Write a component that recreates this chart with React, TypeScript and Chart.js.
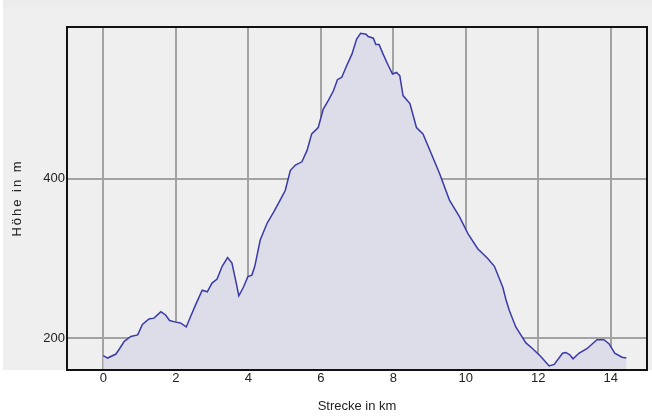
import React, { useEffect, useRef } from "react";
import { Chart, registerables } from "chart.js";

Chart.register(...registerables);

const distanceKm = [
  0.0, 0.12, 0.35, 0.44, 0.58, 0.76, 0.95, 1.08, 1.26, 1.4, 1.59, 1.72, 1.83, 2.0, 2.13, 2.29,
  2.41, 2.55, 2.73, 2.87, 3.0, 3.14, 3.28, 3.43, 3.55, 3.65, 3.74, 3.87, 3.99, 4.1, 4.18, 4.33,
  4.52, 4.7, 4.88, 5.02, 5.16, 5.3, 5.48, 5.62, 5.75, 5.93, 6.07, 6.21, 6.35, 6.46, 6.58, 6.72,
  6.86, 6.99, 7.1, 7.25, 7.31, 7.45, 7.52, 7.61, 7.72, 7.86, 7.98, 8.09, 8.18, 8.27, 8.46, 8.64,
  8.82, 9.05, 9.28, 9.55, 9.83, 10.06, 10.33, 10.6, 10.79, 11.02, 11.11, 11.2, 11.38, 11.66,
  11.84, 12.07, 12.3, 12.44, 12.67, 12.76, 12.87, 12.96, 13.12, 13.35, 13.62, 13.81, 13.95,
  14.11, 14.31, 14.43,
];

const elevationM = [
  178, 175, 180, 186, 196, 202, 204, 217, 224, 225, 233, 229, 222, 220, 219, 214,
  227, 242, 260, 258, 269, 274, 290, 301, 294, 273, 253, 264, 277, 279, 290, 323,
  344, 358, 373, 385, 410, 417, 421, 435, 456, 464, 487, 498, 510, 524, 527, 542,
  556, 575, 582, 581, 578, 576, 568, 568, 556, 542, 531, 533, 529, 504, 494, 464,
  456, 431, 406, 373, 352, 331, 312, 300, 290, 264, 248, 235, 214, 194,
  187, 177, 165, 167, 181, 182, 179, 174, 181, 187, 198, 198, 193,
  181, 176, 175,
];

const xTicks = [0, 2, 4, 6, 8, 10, 12, 14];
const yTicks = [200, 400];

const xTitle = "Strecke in km";
const yTitle = "Höhe in m";

const FONT = "'Liberation Sans', Arial, sans-serif";

export default function App() {
  const ref = useRef<HTMLCanvasElement | null>(null);

  useEffect(() => {
    document.body.style.margin = "0";
    const canvas = ref.current;
    if (!canvas) return;

    const bgPlugin = {
      id: "bg",
      beforeDraw(chart: any) {
        const ctx = chart.ctx;
        ctx.save();
        ctx.fillStyle = "#ffffff";
        ctx.fillRect(0, 0, chart.width, chart.height);
        ctx.fillStyle = "#ececec";
        ctx.fillRect(3, 0, chart.width - 3, 7);
        ctx.fillStyle = "#efefef";
        ctx.fillRect(3, 7, chart.width - 3, chart.chartArea.bottom - 7);
        ctx.restore();
      },
    };

    const framePlugin = {
      id: "frame",
      afterDatasetsDraw(chart: any) {
        const { ctx, chartArea: a } = chart;
        ctx.save();
        ctx.strokeStyle = "#111111";
        ctx.lineWidth = 2;
        ctx.strokeRect(a.left, a.top, a.right - a.left, a.bottom - a.top);
        ctx.restore();
      },
      afterDraw(chart: any) {
        const ctx = chart.ctx;
        ctx.save();
        ctx.translate(17, 199);
        ctx.rotate(-Math.PI / 2);
        (ctx as any).letterSpacing = "2px";
        ctx.font = `13px ${FONT}`;
        ctx.fillStyle = "#222222";
        ctx.textAlign = "center";
        ctx.textBaseline = "middle";
        ctx.fillText(yTitle, 1, 0);
        ctx.restore();
      },
    };

    const chart = new Chart(canvas, {
      type: "line",
      data: {
        datasets: [
          {
            data: distanceKm.map((x, i) => ({ x, y: elevationM[i] })),
            borderColor: "#3a3aa8",
            borderWidth: 1.5,
            backgroundColor: "#dcdde8",
            fill: "start",
            pointRadius: 0,
            tension: 0,
          },
        ],
      },
      options: {
        animation: false,
        responsive: false,
        devicePixelRatio: 1,
        layout: { padding: { left: 0, top: 27, right: 5, bottom: 0 } },
        plugins: { legend: { display: false }, tooltip: { enabled: false } },
        scales: {
          x: {
            type: "linear",
            min: -1,
            max: 15,
            afterBuildTicks: (s: any) => {
              s.ticks = xTicks.map((v) => ({ value: v }));
            },
            afterFit: (s: any) => {
              s.height = 47;
            },
            grid: { color: "#a2a2a2", lineWidth: 2, drawTicks: false },
            border: { display: false },
            ticks: {
              padding: 1,
              color: "#222222",
              font: { family: FONT, size: 13 },
              callback: (v: any) => String(v),
            },
            title: {
              display: true,
              text: xTitle,
              color: "#222222",
              font: { family: FONT, size: 13 },
              padding: { top: 0, bottom: 3 },
            },
          },
          y: {
            type: "linear",
            min: 160,
            max: 590,
            afterBuildTicks: (s: any) => {
              s.ticks = yTicks.map((v) => ({ value: v }));
            },
            afterFit: (s: any) => {
              s.width = 67;
            },
            grid: { color: "#a2a2a2", lineWidth: 2, drawTicks: false },
            border: { display: false },
            ticks: {
              padding: 2,
              color: "#222222",
              font: { family: FONT, size: 13 },
              callback: (v: any) => String(v),
            },
          },
        },
      },
      plugins: [bgPlugin, framePlugin],
    });

    return () => chart.destroy();
  }, []);

  return <canvas ref={ref} width={652} height={417} style={{ display: "block" }} />;
}
